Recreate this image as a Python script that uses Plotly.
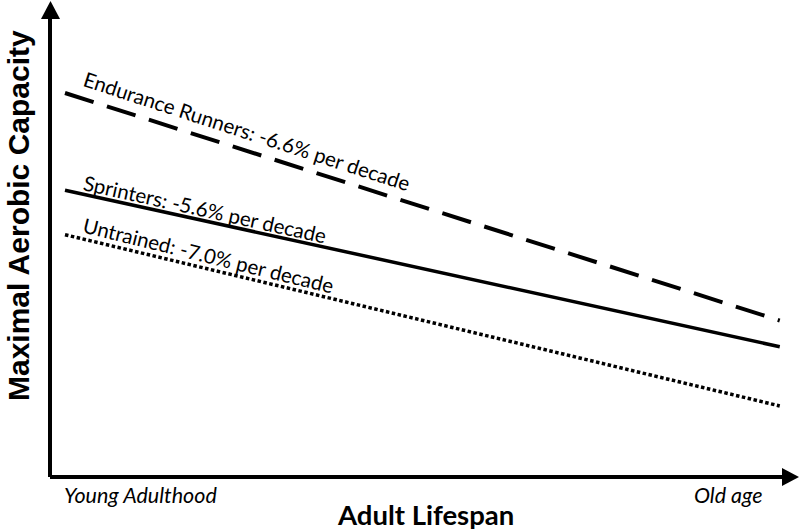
import plotly.graph_objects as go

# conceptual positions along the adult lifespan (0 = young adulthood, 1 = old age)
lifespan = [0.02, 0.973]

# relative maximal aerobic capacity at start / end of lifespan
endurance_runners = [0.805, 0.328]
sprinters = [0.601, 0.273]
untrained = [0.508, 0.149]

series_names = ["Endurance Runners", "Sprinters", "Untrained"]
decline_per_decade = ["-6.6%", "-5.6%", "-7.0%"]

W, H = 800, 532
ML, MB = 50, 55  # axis origin sits at (ML, H - MB) in pixels
PW, PH = W - ML, H - MB


def px(x, y):
    """pixel position -> paper coordinates"""
    return (x - ML) / PW, (H - MB - y) / PH


fig = go.Figure()

styles = [
    dict(dash="30px,14px", width=4),
    dict(dash="solid", width=3.5),
    dict(dash="3.5px,2.5px", width=3.5),
]
for name, vals, st in zip(series_names, [endurance_runners, sprinters, untrained], styles):
    fig.add_trace(
        go.Scatter(
            x=lifespan,
            y=vals,
            mode="lines",
            name=name,
            line=dict(color="black", width=st["width"], dash=st["dash"]),
            showlegend=False,
        )
    )

label_font = dict(family="Lato, Open Sans, sans-serif", size=20.5, color="black")
label_pos = [(247, 131, 18), (205, 209, 12.5), (208, 255, 13.8)]
for name, rate, (lx, ly, ang) in zip(series_names, decline_per_decade, label_pos):
    ax_, ay_ = px(lx, ly)
    fig.add_annotation(
        x=ax_, y=ay_, xref="paper", yref="paper",
        text=f"{name}: {rate} per decade",
        textangle=ang, showarrow=False, font=label_font,
        xanchor="center", yanchor="middle",
    )

# axis lines with arrow heads
shapes = []
x0, y0 = px(50, 477)
xt, yt = px(50, 16)
shapes.append(dict(type="line", xref="paper", yref="paper", x0=x0, y0=y0, x1=xt, y1=yt,
                   line=dict(color="black", width=4)))
xr, yr = px(784, 477)
shapes.append(dict(type="line", xref="paper", yref="paper", x0=x0, y0=y0, x1=xr, y1=yr,
                   line=dict(color="black", width=4)))


def tri(pts):
    p = [px(*q) for q in pts]
    return "M {} {} L {} {} L {} {} Z".format(p[0][0], p[0][1], p[1][0], p[1][1], p[2][0], p[2][1])


shapes.append(dict(type="path", xref="paper", yref="paper", path=tri([(41, 19), (60, 19), (50.5, 1)]),
                   fillcolor="black", line=dict(color="black", width=0)))
shapes.append(dict(type="path", xref="paper", yref="paper", path=tri([(782, 468), (782, 486), (799, 477)]),
                   fillcolor="black", line=dict(color="black", width=0)))

fig.update_layout(shapes=shapes)

# axis texts
tx, ty = px(18, 216)
fig.add_annotation(x=tx, y=ty, xref="paper", yref="paper", text="<b>Maximal Aerobic Capacity</b>",
                   textangle=-90, showarrow=False, xanchor="center", yanchor="middle",
                   font=dict(family="Liberation Sans, Arial, sans-serif", size=30, color="black"))
tx, ty = px(425, 514)
fig.add_annotation(x=tx, y=ty, xref="paper", yref="paper", text="<b>Adult Lifespan</b>",
                   showarrow=False, xanchor="center", yanchor="middle",
                   font=dict(family="Lato, sans-serif", size=27.5, color="black"))
tx, ty = px(62, 495)
fig.add_annotation(x=tx, y=ty, xref="paper", yref="paper", text="<i>Young Adulthood</i>",
                   showarrow=False, xanchor="left", yanchor="middle",
                   font=dict(family="Lato, sans-serif", size=21.5, color="black"))
tx, ty = px(765, 495)
fig.add_annotation(x=tx, y=ty, xref="paper", yref="paper", text="<i>Old age</i>",
                   showarrow=False, xanchor="right", yanchor="middle",
                   font=dict(family="Lato, sans-serif", size=21.5, color="black"))

fig.update_layout(
    width=W,
    height=H,
    margin=dict(l=ML, r=0, t=0, b=MB),
    plot_bgcolor="white",
    paper_bgcolor="white",
    xaxis=dict(range=[0, 1], visible=False),
    yaxis=dict(range=[0, 1], visible=False),
)

# drop the browser's default body margin so the figure fills the window
fig.write_html("out.html", config={"displayModeBar": False},
               post_script="document.body.style.margin='0';")
